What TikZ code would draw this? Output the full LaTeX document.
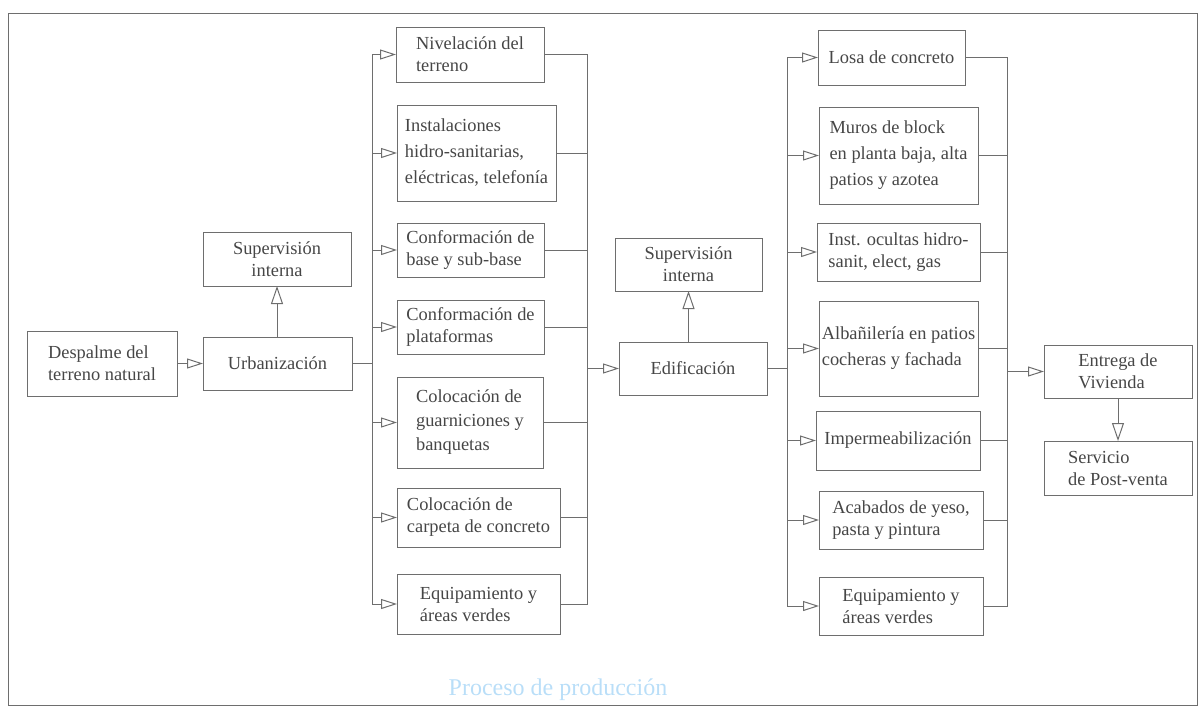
\documentclass[tikz,border=0pt]{standalone}
\usepackage{fontspec}
\setmainfont{Liberation Serif}
\usetikzlibrary{arrows.meta}
\definecolor{lc}{RGB}{110,110,110}
\definecolor{tc}{RGB}{70,70,70}
\definecolor{capc}{RGB}{185,222,248}
\tikzset{
  box/.style={draw=lc, line width=0.5pt, text=tc, font=\fontsize{9.2}{11}\selectfont,
    align=left, anchor=north west, inner xsep=1pt, inner ysep=0pt, outer sep=0pt},
  cbox/.style={box, align=center},
  tall/.style={font=\fontsize{9.2}{13}\selectfont},
  mid/.style={font=\fontsize{9.2}{12}\selectfont},
  conn/.style={draw=lc, line width=0.5pt},
  harr/.style={conn, -{Triangle[open, length=8pt, width=5pt]}},
  varr/.style={conn, -{Triangle[open, length=9pt, width=6pt]}}
}
\begin{document}
\begin{tikzpicture}[x=0.5pt, y=-0.5pt]
\useasboundingbox (0,0) rectangle (1200,708);
\draw[conn] (8,13) rectangle (1197,705);

% left part
\node[box, minimum width=75pt, minimum height=32.5pt] (desp) at (27,331) {Despalme del\\terreno natural};
\node[box, minimum width=74.5pt, minimum height=26.5pt] (urb) at (203,337) {Urbanización};
\node[cbox, minimum width=74pt, minimum height=27pt] (sup1) at (203,232) {Supervisión\\interna};

% left column
\node[box, minimum width=74pt, minimum height=27.5pt] (niv) at (396,27) {Nivelación del\\terreno};
\node[box, tall, minimum width=79.5pt, minimum height=48pt] (ins) at (397,105) {Instalaciones\\hidro-sanitarias,\\eléctricas, telefonía};
\node[box, minimum width=73.5pt, minimum height=27pt] (cb) at (397,223) {Conformación de\\base y sub-base};
\node[box, minimum width=73.5pt, minimum height=27pt] (cp) at (397,300) {Conformación de\\plataformas};
\node[box, mid, minimum width=73pt, minimum height=45.5pt] (cg) at (397,377) {Colocación de\\guarniciones y\\banquetas};
\node[box, minimum width=81.5pt, minimum height=29.5pt] (cc) at (397,488) {Colocación de\\carpeta de concreto};
\node[box, minimum width=81.5pt, minimum height=30pt] (eq1) at (397,574) {Equipamiento y\\áreas verdes};

% middle
\node[box, minimum width=74pt, minimum height=26.5pt] (edi) at (619,342) {Edificación};
\node[cbox, minimum width=73.5pt, minimum height=26.5pt] (sup2) at (615,238) {Supervisión\\interna};

% right column
\node[box, minimum width=73.5pt, minimum height=27.5pt] (losa) at (818,30) {Losa de concreto};
\node[box, tall, minimum width=79.5pt, minimum height=48.5pt] (mur) at (819,107) {Muros de block\\en planta baja, alta\\patios y azotea};
\node[box, minimum width=81.5pt, minimum height=29pt] (oc) at (817,223) {Inst. ocultas hidro-\\sanit, elect, gas};
\node[box, tall, minimum width=79.5pt, minimum height=47.5pt] (alb) at (819,301) {Albañilería en patios\\cocheras y fachada};
\node[box, minimum width=82pt, minimum height=29.5pt] (imp) at (816,411) {Impermeabilización};
\node[box, minimum width=82pt, minimum height=29pt] (aca) at (819,491) {Acabados de yeso,\\pasta y pintura};
\node[box, minimum width=82pt, minimum height=29pt] (eq2) at (819,577) {Equipamiento y\\áreas verdes};

% end
\node[box, minimum width=74pt, minimum height=26.5pt] (ent) at (1044,345) {Entrega de\\Vivienda};
\node[box, minimum width=74pt, minimum height=27pt] (serv) at (1044,441) {Servicio\\de Post-venta};

\node[font=\fontsize{12}{14}\selectfont, text=capc] (cap) at (558,690) {Proceso de producción};

% bus coordinates
\coordinate (bL) at (372,0);
\coordinate (cL) at (587,0);
\coordinate (bR) at (787,0);
\coordinate (cR) at (1007,0);

% connectors
\draw[harr] (desp.east) -- (urb.west);
\draw[varr] (sup1.south |- urb.north) -- (sup1.south);
\foreach \n in {niv,ins,cb,cp,cg,cc,eq1}{
  \draw[harr] (urb.east) -| (bL |- \n.west) -- (\n.west);
  \draw[conn] (\n.east) -| (cL |- edi.west);
}
\draw[harr] (cL |- edi.west) -- (edi.west);
\draw[varr] (sup2.south |- edi.north) -- (sup2.south);
\foreach \n in {losa,mur,oc,alb,imp,aca,eq2}{
  \draw[harr] (edi.east) -| (bR |- \n.west) -- (\n.west);
  \draw[conn] (\n.east) -| (cR |- ent.west);
}
\draw[harr] (cR |- ent.west) -- (ent.west);
\draw[varr] (ent.south) -- (ent.south |- serv.north);
\end{tikzpicture}
\end{document}
